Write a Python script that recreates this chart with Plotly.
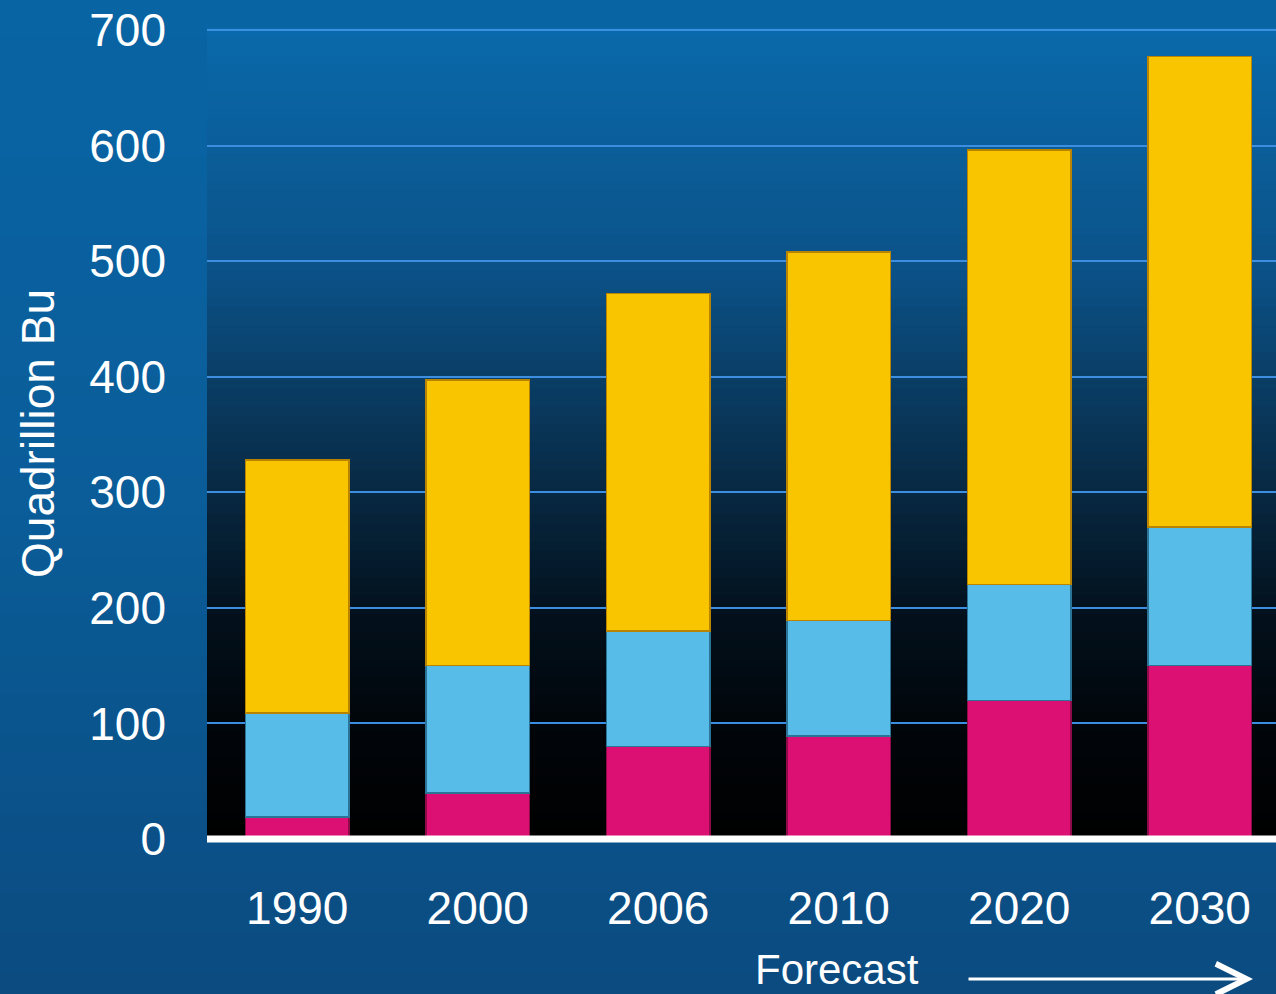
import plotly.graph_objects as go

# ---- data ----
years = ["1990", "2000", "2006", "2010", "2020", "2030"]
seg_magenta = [19, 40, 80, 89, 120, 150]
seg_blue = [90, 110, 100, 100, 100, 120]
seg_gold = [219, 247, 292, 319, 376, 407]
y_ticks = [0, 100, 200, 300, 400, 500, 600, 700]
y_title = "Quadrillion Bu"
forecast_label = "Forecast"

FONT = "Liberation Sans, Arial, sans-serif"

fig = go.Figure()
fig.add_trace(go.Bar(x=years, y=seg_magenta, name="Magenta",
                     marker=dict(color="#DC0F73", line=dict(color="#8E0A48", width=1.5))))
fig.add_trace(go.Bar(x=years, y=seg_blue, name="Blue",
                     marker=dict(color="#58BCE8", line=dict(color="#2C7398", width=1.5))))
fig.add_trace(go.Bar(x=years, y=seg_gold, name="Gold",
                     marker=dict(color="#F9C400", line=dict(color="#B88400", width=1.5))))

# ---- background gradients (decoration) ----
def lerp(c1, c2, t):
    return tuple(int(round(a + (b - a) * t)) for a, b in zip(c1, c2))

def hex2rgb(h):
    h = h.lstrip("#")
    return tuple(int(h[i:i + 2], 16) for i in (0, 2, 4))

def grad_color(stops, f):
    for (f0, c0), (f1, c1) in zip(stops[:-1], stops[1:]):
        if f0 <= f <= f1:
            t = 0 if f1 == f0 else (f - f0) / (f1 - f0)
            r, g, b = lerp(hex2rgb(c0), hex2rgb(c1), t)
            return f"rgb({r},{g},{b})"
    r, g, b = hex2rgb(stops[-1][1])
    return f"rgb({r},{g},{b})"

W, H = 1276, 994
ML, MR, MT, MB = 207, 0, 28, 155
PW, PH = W - ML - MR, H - MT - MB

shapes = []
# paper gradient (top -> bottom)
paper_stops = [(0.0, "#0964A4"), (0.5, "#0A5D99"), (1.0, "#0B4B80")]
N = 50
for i in range(N):
    ftop0, ftop1 = i / N, (i + 1) / N
    py0, py1 = ftop0 * H, ftop1 * H  # pixel rows from top
    shapes.append(dict(type="rect", xref="paper", yref="paper", layer="below",
                       x0=-ML / PW, x1=1 + MR / PW,
                       y0=(H - MB - py1) / PH, y1=(H - MB - py0) / PH + 0.002,
                       line=dict(width=0),
                       fillcolor=grad_color(paper_stops, (ftop0 + ftop1) / 2)))
# plot area gradient (top blue -> bottom black)
plot_stops = [(0.0, "#0A69AB"), (0.3, "#0B5288"), (0.55, "#082C48"),
              (0.72, "#03111D"), (0.85, "#01060B"), (1.0, "#000000")]
N2 = 90
for i in range(N2):
    y0, y1 = i / N2, (i + 1) / N2
    ftop = 1 - (y0 + y1) / 2
    shapes.append(dict(type="rect", xref="paper", yref="paper", layer="below",
                       x0=0, x1=1, y0=y0, y1=y1 + 0.001, line=dict(width=0),
                       fillcolor=grad_color(plot_stops, ftop)))
# white baseline at the bottom edge of the plot (value 0)
shapes.append(dict(type="line", xref="paper", yref="paper", layer="above",
                   x0=0, x1=1, y0=0, y1=0, line=dict(color="white", width=7)))

ymax = 700 * PH / 809.0

fig.update_layout(
    width=W, height=H,
    margin=dict(l=ML, r=MR, t=MT, b=MB, pad=0),
    barmode="stack",
    bargap=0.424,
    showlegend=False,
    paper_bgcolor="#0A5C98",
    plot_bgcolor="rgba(0,0,0,0)",
    font=dict(family=FONT, color="white"),
    shapes=shapes,
    xaxis=dict(range=[-0.5, -0.5 + PW / 180.5], showgrid=False, zeroline=False,
               showline=False, ticks="outside", ticklen=0,
               ticklabelstandoff=29,
               tickfont=dict(size=46, color="white", family=FONT)),
    yaxis=dict(range=[0, ymax], tickvals=y_ticks, showgrid=True,
               gridcolor="#3C8FE0", gridwidth=2, zeroline=False, showline=False,
               ticklabelstandoff=40,
               tickfont=dict(size=46, color="white", family=FONT),
               title=dict(text=y_title, font=dict(size=46, color="white", family=FONT),
                          standoff=20)),
    annotations=[
        dict(text=forecast_label, xref="paper", yref="paper",
             x=(837 - ML) / PW, y=(H - MB - 969) / PH,
             xanchor="center", yanchor="middle", showarrow=False,
             font=dict(size=42, color="white", family=FONT)),
        dict(text="", xref="paper", yref="paper",
             x=(1253 - ML) / PW, y=(H - MB - 979) / PH,
             ax=-286, ay=0, axref="pixel", ayref="pixel",
             showarrow=True, arrowhead=5, arrowsize=2.0, arrowwidth=3,
             arrowcolor="white"),
    ],
)

fig.write_html("out.html")
